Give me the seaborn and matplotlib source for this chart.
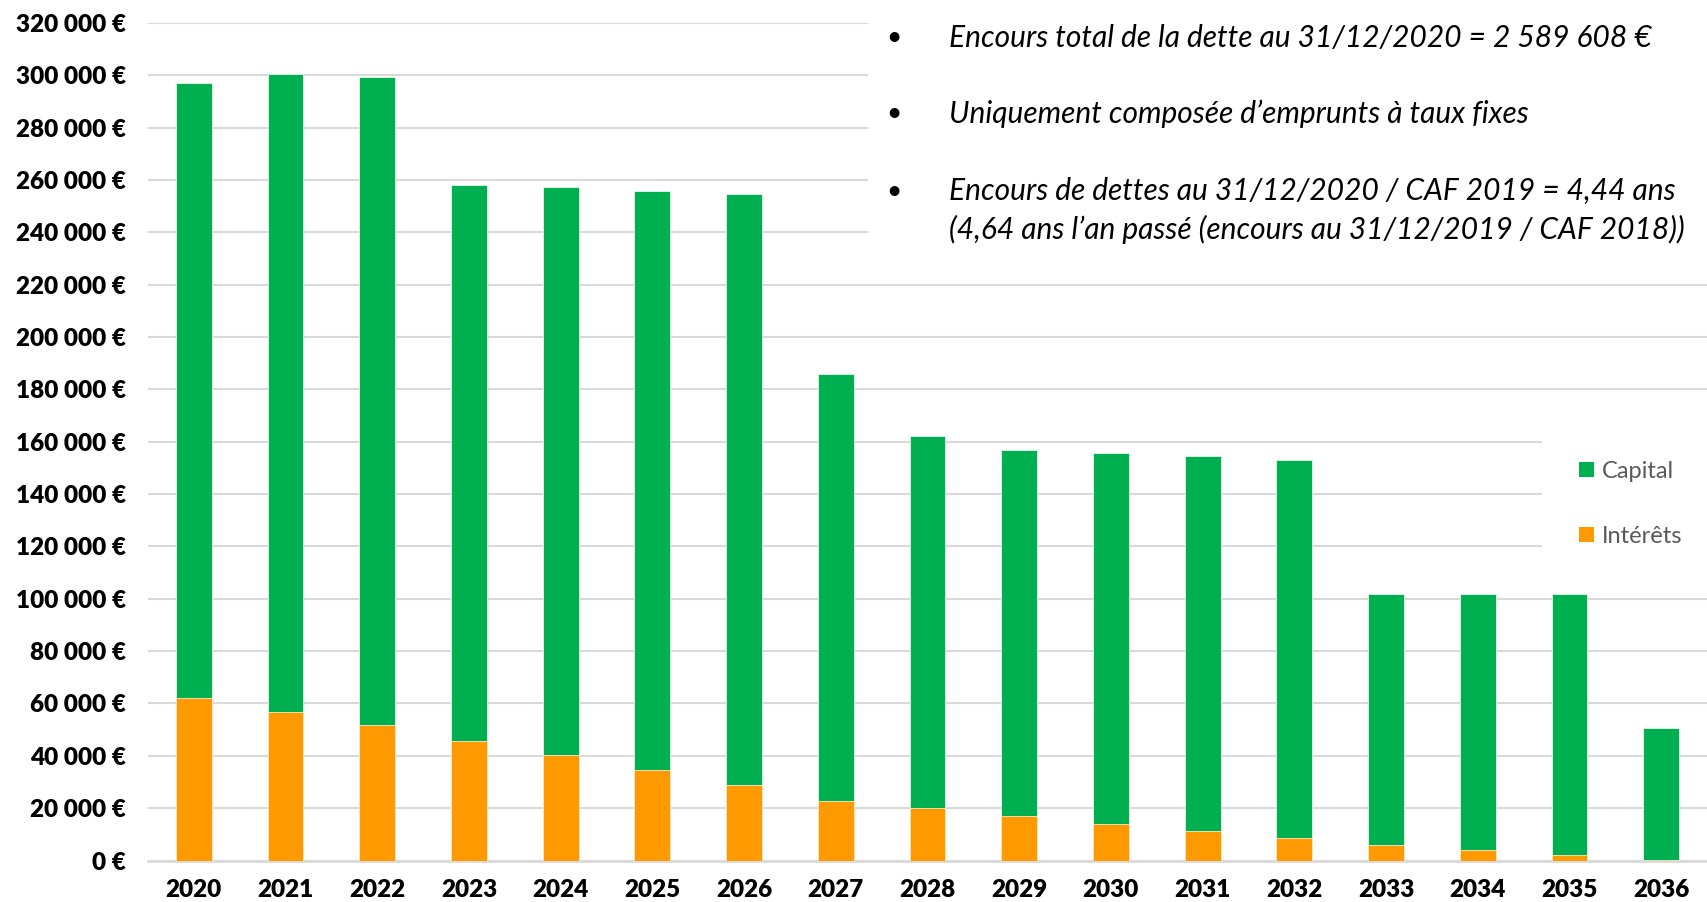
import matplotlib
matplotlib.use("Agg")
import matplotlib.pyplot as plt
import matplotlib.ticker as mticker
from matplotlib.patches import Patch, Rectangle
import seaborn as sns
import pandas as pd

years = ["2020", "2021", "2022", "2023", "2024", "2025", "2026", "2027", "2028",
         "2029", "2030", "2031", "2032", "2033", "2034", "2035", "2036"]
capital = [235000, 243800, 247600, 212200, 216800, 221400, 226000, 163100, 142300,
           139800, 141500, 143200, 144400, 96100, 97700, 99800, 50500]
interets = [62000, 56600, 51600, 45800, 40400, 34500, 28700, 22900, 20000,
            17100, 14100, 11200, 8700, 5800, 4200, 2100, 300]
ytick_values = list(range(0, 320001, 20000))
notes = [
    "Encours total de la dette au 31/12/2020 = 2 589 608 €",
    "Uniquement composée d\u2019emprunts à taux fixes",
    "Encours de dettes au 31/12/2020 / CAF 2019 = 4,44 ans",
    "(4,64 ans l\u2019an passé (encours au 31/12/2019 / CAF 2018))",
]

GREEN = "#00B050"
ORANGE = "#FF9900"
GRID = "#D9D9D9"

df = pd.DataFrame({"annee": years, "Capital": capital, "Intérêts": interets})
df["total"] = df["Capital"] + df["Intérêts"]

sns.set_theme(style="white")
plt.rcParams["font.family"] = ["Lato", "DejaVu Sans"]

fig = plt.figure(figsize=(17.08, 9.02), dpi=100)
ax = fig.add_axes([148 / 1708, 1 - 860.5 / 902, (1707 - 148) / 1708, 837.6 / 902])

sns.barplot(data=df, x="annee", y="total", color=GREEN, width=0.39,
            edgecolor="#E8F5EC", linewidth=0.6, saturation=1, ax=ax, zorder=3)
sns.barplot(data=df, x="annee", y="Intérêts", color=ORANGE, width=0.39,
            edgecolor="#FFE9C7", linewidth=0.6, saturation=1, ax=ax, zorder=4)

ax.set_ylim(0, 320000)
ax.set_xlim(-0.5, len(years) - 0.5)
ax.set_yticks(ytick_values)
ax.yaxis.set_major_formatter(mticker.FuncFormatter(
    lambda v, p: f"{int(v):,}".replace(",", " ") + " €"))
ax.set_xlabel("")
ax.set_ylabel("")
ax.set_axisbelow(True)
ax.yaxis.grid(True, color=GRID, linewidth=1.5, zorder=0)
ax.xaxis.grid(False)
for s in ["top", "right", "left"]:
    ax.spines[s].set_visible(False)
ax.spines["bottom"].set_color(GRID)
ax.spines["bottom"].set_linewidth(2)
ax.tick_params(axis="both", length=0)
ax.tick_params(axis="y", pad=16, labelsize=17.5)
ax.tick_params(axis="x", pad=13, labelsize=17.5)
for lab in ax.get_xticklabels() + ax.get_yticklabels():
    lab.set_fontweight("heavy")
    lab.set_color("black")

# white areas behind annotation and legend (they mask gridlines)
ax.add_patch(Rectangle((0.462, 0.72), 0.6, 0.4, transform=ax.transAxes,
                       facecolor="white", edgecolor="none", zorder=1, clip_on=False))
ax.add_patch(Rectangle((0.894, 0.34), 0.2, 0.18, transform=ax.transAxes,
                       facecolor="white", edgecolor="none", zorder=1, clip_on=False))

# notes
bullet_x, text_x = 886 / 1708, 949 / 1708
ys = [1 - 38 / 902, 1 - 114 / 902, 1 - 191 / 902, 1 - 229 / 902]
for i, (t, y) in enumerate(zip(notes, ys)):
    if i < 3:
        fig.text(bullet_x, y, "•", fontsize=19, color="black", va="center", ha="left")
    fig.text(text_x, y, t, fontsize=21.5, style="italic", color="black",
             va="center", ha="left")

handles = [Patch(facecolor=GREEN, edgecolor="none"), Patch(facecolor=ORANGE, edgecolor="none")]
leg = ax.legend(handles, ["Capital", "Intérêts"], loc="center left",
                bbox_to_anchor=(1570 / 1708, 1 - 504 / 902), bbox_transform=fig.transFigure,
                frameon=False, fontsize=17, handlelength=0.6, handleheight=0.6,
                handletextpad=0.35, labelspacing=1.85, borderaxespad=0)
for t in leg.get_texts():
    t.set_color("#595959")

fig.savefig("out.png", dpi=100)
